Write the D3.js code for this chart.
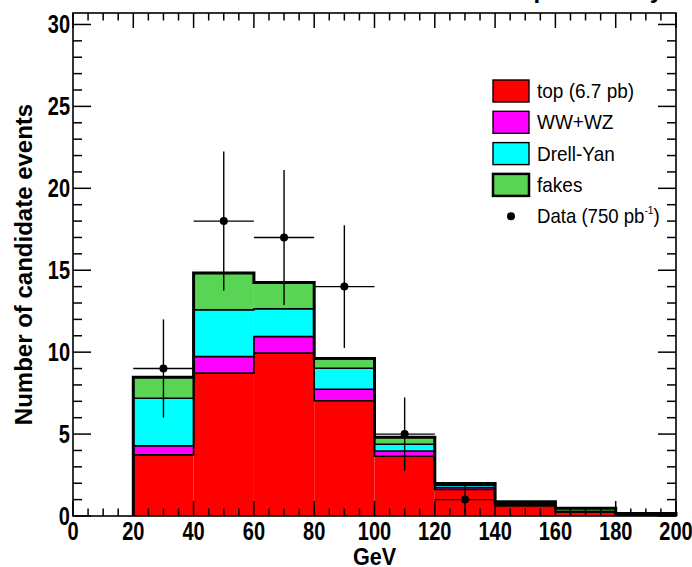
<!DOCTYPE html>
<html>
<head>
<meta charset="utf-8">
<script src="https://cdn.jsdelivr.net/npm/d3@7"></script>
<style>
  body { margin: 0; background: #fff; }
  svg { display: block; }
  .ticklabel { font-family: "Liberation Sans", Arial, sans-serif; font-weight: bold; font-size: 25px; }
  .axtitle { font-family: "Liberation Sans", Arial, sans-serif; font-weight: bold; font-size: 24px; }
  .legend { font-family: "Liberation Sans", Arial, sans-serif; font-size: 20px; }
</style>
</head>
<body>
<svg width="692" height="567"></svg>
<script>
// histogram bins (lower edge, GeV), each 20 GeV wide
const binLow = [20, 40, 60, 80, 100, 120, 140, 160, 180]
const binWidth = 20

// stacked expectations, bottom to top
const topPb = [3.73, 8.72, 9.94, 7.03, 3.65, 1.62, 0.62, 0.24, 0.06]
const wwwz = [0.55, 1.01, 1.01, 0.71, 0.32, 0.10, 0.06, 0.02, 0.02]
const drellYan = [2.91, 2.85, 1.69, 1.28, 0.41, 0.15, 0.10, 0.02, 0.02]
const fakes = [1.28, 2.25, 1.61, 0.59, 0.42, 0.12, 0.09, 0.19, 0.06]

// observed events
const dataCounts = [9, 18, 17, 14, 5, 1, 0, 0, 0]

const components = [
  {id: "top", label: "top (6.7 pb)", values: topPb, color: "#ff0000"},
  {id: "wwwz", label: "WW+WZ", values: wwwz, color: "#ff00ff"},
  {id: "dy", label: "Drell-Yan", values: drellYan, color: "#00ffff"},
  {id: "fakes", label: "fakes", values: fakes, color: "#59d454"}
]

const xTicks = [0, 20, 40, 60, 80, 100, 120, 140, 160, 180, 200]
const yTicks = [0, 5, 10, 15, 20, 25, 30]

const svg = d3.select("svg"),
      frame = {left: 73, right: 676, top: 13, bottom: 516}

const x = d3.scaleLinear().domain([0, 200]).range([frame.left, frame.right]),
      y = d3.scaleLinear().domain([0, 30.7]).range([frame.bottom, frame.top])

// cumulative levels for the stack
let running = binLow.map(() => 0)
const layers = components.map(function (c) {
  const lower = running.slice()
  running = running.map((v, i) => v + c.values[i])
  return {id: c.id, color: c.color, lower: lower, upper: running.slice()}
})

// cut-off title at the very top
svg.append("text")
  .attr("class", "axtitle")
  .attr("x", 663).attr("y", -2)
  .attr("text-anchor", "end")
  .text("CDF Run II preliminary")

const g = svg.append("g")

// fills
layers.forEach(function (layer) {
  g.selectAll(".fill-" + layer.id)
    .data(binLow)
    .enter().append("rect")
      .attr("x", d => x(d))
      .attr("width", d => x(d + binWidth) - x(d))
      .attr("y", (d, i) => y(layer.upper[i]))
      .attr("height", (d, i) => y(layer.lower[i]) - y(layer.upper[i]))
      .style("fill", layer.color)
})

// step outlines, one per stacked level (as ROOT draws the THStack)
function stepPath(levels) {
  let p = d3.path()
  p.moveTo(x(binLow[0]), y(0))
  binLow.forEach(function (lo, i) {
    p.lineTo(x(lo), y(levels[i]))
    p.lineTo(x(lo + binWidth), y(levels[i]))
  })
  p.lineTo(x(binLow[binLow.length - 1] + binWidth), y(0))
  return p.toString()
}

layers.forEach(function (layer, k) {
  g.append("path")
    .attr("d", stepPath(layer.upper))
    .style("fill", "none")
    .style("stroke", "#000")
    .style("stroke-width", k === layers.length - 1 ? 3 : 1.6)
})

// data points with error bars
const points = binLow.map((lo, i) => ({x: lo + binWidth / 2, lo: lo, n: dataCounts[i]})).filter(d => d.n > 0)

const pts = g.selectAll(".pt").data(points).enter().append("g")
pts.append("line")
  .attr("x1", d => x(d.lo)).attr("x2", d => x(d.lo + binWidth))
  .attr("y1", d => y(d.n)).attr("y2", d => y(d.n))
  .style("stroke", "#000").style("stroke-width", 1.4)
pts.append("line")
  .attr("x1", d => x(d.x)).attr("x2", d => x(d.x))
  .attr("y1", d => y(d.n + Math.sqrt(d.n))).attr("y2", d => y(d.n - Math.sqrt(d.n)))
  .style("stroke", "#000").style("stroke-width", 1.4)
pts.append("circle")
  .attr("cx", d => x(d.x)).attr("cy", d => y(d.n)).attr("r", 4)
  .style("fill", "#000")

// frame
svg.append("rect")
  .attr("x", frame.left).attr("y", frame.top)
  .attr("width", frame.right - frame.left).attr("height", frame.bottom - frame.top)
  .style("fill", "none").style("stroke", "#000").style("stroke-width", 1.6)

// ticks, inward on all four sides
const ax = svg.append("g").style("stroke", "#000").style("stroke-width", 1.5)
const xMinor = d3.range(0, 201, 5), yMinor = d3.range(0, 31, 1)

xMinor.forEach(function (v) {
  const len = v % 20 === 0 ? 15 : 7.5
  ax.append("line").attr("x1", x(v)).attr("x2", x(v)).attr("y1", frame.bottom).attr("y2", frame.bottom - len)
  ax.append("line").attr("x1", x(v)).attr("x2", x(v)).attr("y1", frame.top).attr("y2", frame.top + len)
})
yMinor.forEach(function (v) {
  const len = v % 5 === 0 ? 18 : 9
  ax.append("line").attr("x1", frame.left).attr("x2", frame.left + len).attr("y1", y(v)).attr("y2", y(v))
  ax.append("line").attr("x1", frame.right).attr("x2", frame.right - len).attr("y1", y(v)).attr("y2", y(v))
})

// tick labels, condensed bold like the original
svg.selectAll(".xlab").data(xTicks).enter().append("text")
  .attr("class", "ticklabel")
  .attr("transform", d => "translate(" + x(d) + ",540) scale(0.8,1)")
  .attr("text-anchor", "middle")
  .text(d => d)

svg.selectAll(".ylab").data(yTicks).enter().append("text")
  .attr("class", "ticklabel")
  .attr("transform", d => "translate(70," + (y(d) + 9) + ") scale(0.8,1)")
  .attr("text-anchor", "end")
  .text(d => d)

// axis titles
svg.append("text")
  .attr("class", "axtitle")
  .attr("transform", "translate(" + (frame.left + frame.right) / 2 + ",565) scale(0.9,1)")
  .attr("text-anchor", "middle")
  .text("GeV")

svg.append("text")
  .attr("class", "axtitle")
  .attr("transform", "translate(32," + (frame.top + frame.bottom) / 2 + ") rotate(-90)")
  .attr("text-anchor", "middle")
  .text("Number of candidate events")

// legend
const legend = svg.append("g").attr("transform", "translate(493,91)")
const rowGap = 31.3

components.forEach(function (c, i) {
  legend.append("rect")
    .attr("x", 0).attr("y", i * rowGap - 11)
    .attr("width", 36).attr("height", 22)
    .style("fill", c.color)
    .style("stroke", "#000")
    .style("stroke-width", c.id === "fakes" ? 2.5 : 1.4)
  legend.append("text")
    .attr("class", "legend")
    .attr("transform", "translate(44," + (i * rowGap + 7) + ") scale(0.95,1)")
    .text(c.label)
})

legend.append("circle")
  .attr("cx", 18).attr("cy", 4 * rowGap).attr("r", 4)
  .style("fill", "#000")
const dataLabel = legend.append("text")
  .attr("class", "legend")
  .attr("transform", "translate(44," + (4 * rowGap + 7) + ") scale(0.93,1)")
dataLabel.append("tspan").text("Data (750 pb")
dataLabel.append("tspan").attr("dy", -9).style("font-size", "11px").text("-1")
dataLabel.append("tspan").attr("dy", 9).text(")")
</script>
</body>
</html>
